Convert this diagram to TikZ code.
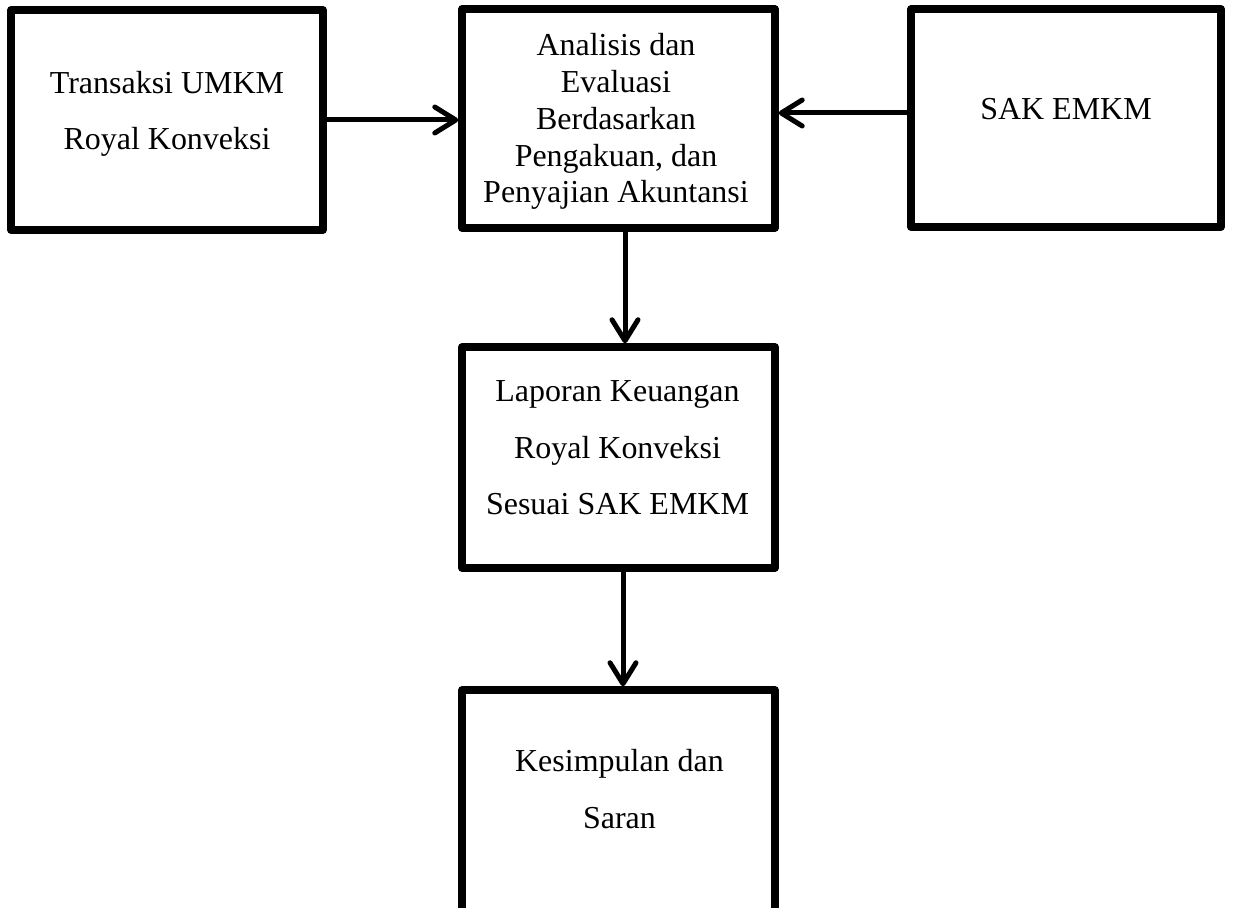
\documentclass[tikz,border=0pt]{standalone}
\usepackage{fontspec}
\setmainfont{Liberation Serif}
\usetikzlibrary{arrows.meta}
\begin{document}
\begin{tikzpicture}[x=0.02cm,y=-0.02cm,line join=round,line cap=round,
	kotak/.style={draw,line width=0.15cm,minimum width=6.26cm,minimum height=4.4cm,inner sep=0pt},
	teks/.style={align=center,anchor=base,font=\fontsize{18.2pt}{32.2pt}\selectfont},
	panah/.style={line width=0.1cm,-{Straight Barb[length=0.42cm,width=0.52cm,round]}}]
	\useasboundingbox (0,0) rectangle (1235,908);
	% Kotak-kotak alur
	\node[kotak,minimum width=6.24cm] (transaksi) at (167,120) {};
	\node[kotak,minimum height=4.38cm] (analisis) at (618.5,118.5) {};
	\node[kotak,minimum width=6.2cm,minimum height=4.36cm] (sak) at (1066,118) {};
	\node[kotak,minimum height=4.42cm] (laporan) at (618.5,457.5) {};
	\node[kotak,minimum height=4.8cm] (kesimpulan) at (618.5,810) {};
	% Teks di dalam kotak (anchor base = baris terakhir)
	\node[teks] (transaksi-t) at (167,150) {Transaksi UMKM\\Royal Konveksi};
	\node[teks,font=\fontsize{18.2pt}{21pt}\selectfont] (analisis-t) at (616,203)
		{Analisis dan\\Evaluasi\\Berdasarkan\\Pengakuan, dan\\Penyajian Akuntansi};
	\node[teks] (sak-t) at (1066,120) {SAK EMKM};
	\node[teks] (laporan-t) at (617.5,515) {Laporan Keuangan\\Royal Konveksi\\Sesuai SAK EMKM};
	\node[teks] (kesimpulan-t) at (619.5,828) {Kesimpulan dan\\Saran};
	% Panah
	\draw[panah] (transaksi.east) -- (transaksi.east -| analisis.west);
	\draw[panah] ([yshift=0.1cm]sak.west) -- ([yshift=0.1cm]sak.west -| analisis.east);
	\draw[panah] ([xshift=0.13cm]analisis.south) -- ([xshift=0.13cm]analisis.south |- laporan.north);
	\draw[panah] ([xshift=0.09cm]laporan.south) -- ([xshift=0.09cm]laporan.south |- kesimpulan.north);
\end{tikzpicture}
\end{document}
